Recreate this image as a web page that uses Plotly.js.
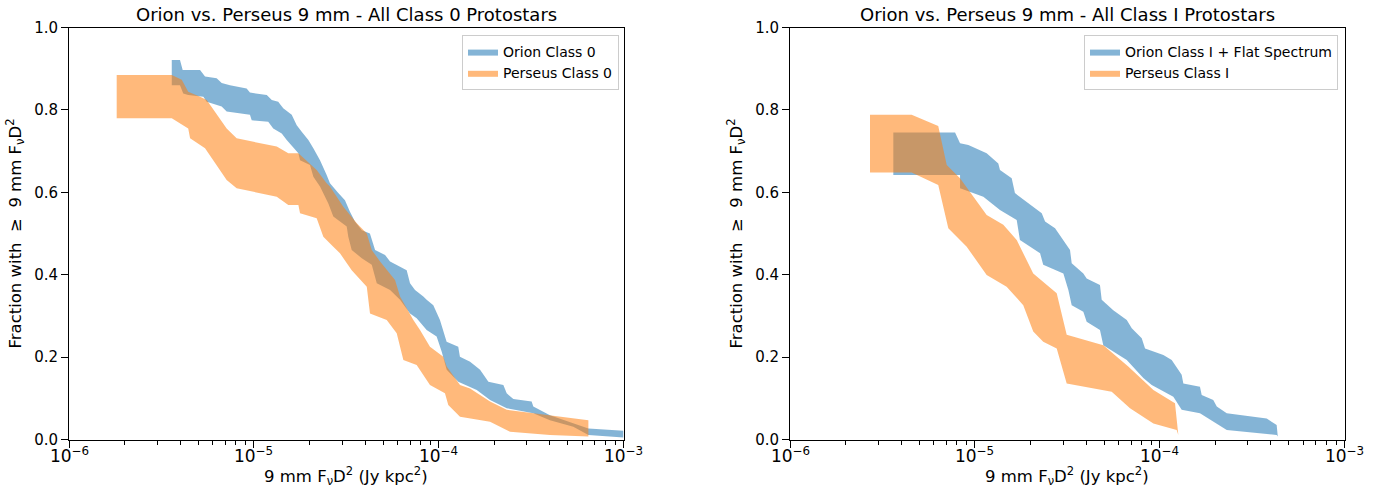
<!DOCTYPE html>
<html>
<head>
<meta charset="utf-8">
<script src="https://cdn.plot.ly/plotly-3.0.1.min.js"></script>
<style>html,body{margin:0;padding:0;background:#fff;}#chart{width:1376px;height:488px;}</style>
</head>
<body>
<div id="chart"></div>
<script>
// log10 of 9 mm F_nu D^2 (Jy kpc^2) and cumulative fraction bounds
// ---- Left panel: Class 0 ----
const orionC0UpperLogX = [-5.444,-5.3995,-5.385,-5.291,-5.264,-5.201,-5.174,-5.129,-5.039,-5.021,-4.930,-4.903,-4.868,-4.841,-4.795,-4.768,-4.741,-4.705,-4.678,-4.642,-4.606,-4.588,-4.543,-4.507,-4.480,-4.453,-4.416,-4.372,-4.344,-4.290,-4.263,-4.209,-4.173,-4.155,-4.128,-4.083,-4.065,-4.029,-3.993,-3.957,-3.894,-3.885,-3.830,-3.776,-3.731,-3.650,-3.632,-3.596,-3.497,-3.488,-3.416,-3.398,-3.190,-3.0];
const orionC0UpperY = [0.921,0.921,0.897,0.897,0.881,0.877,0.865,0.860,0.852,0.842,0.836,0.824,0.820,0.804,0.788,0.763,0.747,0.727,0.707,0.678,0.642,0.622,0.598,0.581,0.553,0.529,0.508,0.500,0.460,0.448,0.432,0.419,0.411,0.379,0.363,0.347,0.339,0.326,0.290,0.237,0.225,0.201,0.189,0.169,0.140,0.132,0.112,0.098,0.092,0.080,0.064,0.059,0.027,0.021];
const orionC0LowerLogX = [-5.444,-5.3995,-5.382,-5.355,-5.273,-5.255,-5.174,-5.147,-5.021,-5.0115,-4.922,-4.895,-4.849,-4.822,-4.759,-4.750,-4.696,-4.678,-4.642,-4.597,-4.570,-4.4975,-4.489,-4.4705,-4.416,-4.362,-4.335,-4.263,-4.209,-4.155,-4.119,-4.065,-4.011,-3.9835,-3.9565,-3.894,-3.794,-3.722,-3.632,-3.488,-3.398,-3.2715,-3.190,-3.0];
const orionC0LowerY = [0.860,0.860,0.840,0.836,0.832,0.820,0.808,0.796,0.788,0.775,0.771,0.755,0.743,0.727,0.695,0.678,0.666,0.638,0.614,0.573,0.541,0.517,0.492,0.460,0.440,0.424,0.379,0.363,0.339,0.306,0.294,0.266,0.250,0.213,0.169,0.140,0.120,0.096,0.076,0.064,0.047,0.031,0.011,0.005];

const perseusC0UpperLogX = [-5.742,-5.444,-5.390,-5.355,-5.291,-5.255,-5.147,-5.093,-4.876,-4.8135,-4.759,-4.696,-4.660,-4.606,-4.588,-4.516,-4.443,-4.389,-4.362,-4.317,-4.236,-4.209,-4.137,-4.101,-4.047,-3.975,-3.9565,-3.8845,-3.830,-3.776,-3.722,-3.632,-3.488,-3.398,-3.190];
const perseusC0UpperY = [0.885,0.885,0.873,0.844,0.832,0.824,0.755,0.731,0.711,0.695,0.695,0.670,0.654,0.622,0.614,0.565,0.525,0.500,0.460,0.432,0.387,0.347,0.290,0.266,0.225,0.201,0.177,0.132,0.124,0.108,0.092,0.072,0.064,0.059,0.047];
const perseusC0LowerLogX = [-5.742,-5.444,-5.355,-5.345,-5.264,-5.147,-5.093,-4.876,-4.8135,-4.759,-4.750,-4.660,-4.624,-4.570,-4.534,-4.4705,-4.389,-4.3715,-4.281,-4.227,-4.191,-4.119,-4.047,-3.966,-3.948,-3.8845,-3.722,-3.614,-3.398,-3.190];
const perseusC0LowerY = [0.780,0.780,0.755,0.731,0.707,0.630,0.610,0.589,0.569,0.569,0.549,0.537,0.492,0.468,0.452,0.411,0.371,0.306,0.290,0.258,0.193,0.181,0.132,0.112,0.084,0.055,0.043,0.019,0.011,0.007];

// ---- Right panel: Class I ----
const orionCIUpperLogX = [-5.441,-5.107,-5.080,-5.035,-4.936,-4.873,-4.864,-4.8005,-4.783,-4.711,-4.638,-4.620,-4.566,-4.485,-4.476,-4.413,-4.395,-4.323,-4.3136,-4.251,-4.178,-4.151,-4.097,-4.079,-3.980,-3.935,-3.881,-3.872,-3.782,-3.7726,-3.710,-3.691,-3.637,-3.421,-3.367,-3.361];
const orionCIUpperY = [0.745,0.745,0.719,0.715,0.695,0.670,0.654,0.634,0.598,0.573,0.549,0.529,0.513,0.460,0.428,0.403,0.391,0.375,0.339,0.314,0.290,0.270,0.246,0.221,0.205,0.193,0.157,0.136,0.128,0.108,0.096,0.080,0.064,0.051,0.035,0.007];
const orionCILowerLogX = [-5.441,-5.080,-5.080,-4.954,-4.864,-4.7735,-4.756,-4.647,-4.630,-4.521,-4.494,-4.476,-4.413,-4.395,-4.323,-4.305,-4.178,-4.0885,-4.043,-3.926,-3.881,-3.782,-3.691,-3.637,-3.367,-3.361];
const orionCILowerY = [0.642,0.642,0.610,0.589,0.557,0.533,0.484,0.452,0.424,0.403,0.363,0.326,0.310,0.286,0.266,0.229,0.193,0.149,0.132,0.104,0.072,0.064,0.039,0.023,0.011,0.007];

const perseusCIUpperLogX = [-5.567,-5.342,-5.198,-5.152,-5.080,-4.936,-4.846,-4.7735,-4.684,-4.557,-4.503,-4.305,-4.170,-4.034,-3.917,-3.899];
const perseusCIUpperY = [0.788,0.788,0.761,0.666,0.634,0.545,0.521,0.484,0.403,0.355,0.254,0.229,0.177,0.120,0.088,0.011];
const perseusCILowerLogX = [-5.567,-5.342,-5.198,-5.1435,-5.044,-4.936,-4.828,-4.738,-4.684,-4.630,-4.557,-4.503,-4.2595,-4.1605,-4.034,-3.908,-3.899];
const perseusCILowerY = [0.648,0.648,0.618,0.513,0.468,0.399,0.371,0.326,0.262,0.237,0.221,0.136,0.116,0.076,0.039,0.023,0.011];

const xTickExponents = [-6, -5, -4, -3];
const seriesNames = ["Orion Class 0","Perseus Class 0","Orion Class I + Flat Spectrum","Perseus Class I"];
const panelTitles = ["Orion vs. Perseus 9 mm - All Class 0 Protostars","Orion vs. Perseus 9 mm - All Class I Protostars"];
const xTitle = "9 mm F<sub>ν</sub>D<sup>2</sup> (Jy kpc<sup>2</sup>)";
const yTitle = "Fraction with \u00a0≥\u00a0 9 mm F<sub>ν</sub>D<sup>2</sup>";

const FONT = "DejaVu Sans, Liberation Sans, sans-serif";
const BLUE = "rgba(31,119,180,0.55)";
const ORANGE = "rgba(255,127,14,0.55)";

function band(upX, upY, loX, loY, name, color, xa, ya, leg) {
  const x = upX.concat(loX.slice().reverse()).map(v => Math.pow(10, v));
  const y = upY.concat(loY.slice().reverse());
  return {x: x, y: y, type: "scatter", mode: "lines", fill: "toself", fillcolor: color,
    line: {width: 0, color: color}, name: name, xaxis: xa, yaxis: ya, legend: leg,
    hoverinfo: "skip"};
}

const traces = [
  band(orionC0UpperLogX, orionC0UpperY, orionC0LowerLogX, orionC0LowerY, seriesNames[0], BLUE, "x", "y", "legend"),
  band(perseusC0UpperLogX, perseusC0UpperY, perseusC0LowerLogX, perseusC0LowerY, seriesNames[1], ORANGE, "x", "y", "legend"),
  band(orionCIUpperLogX, orionCIUpperY, orionCILowerLogX, orionCILowerY, seriesNames[2], BLUE, "x2", "y2", "legend2"),
  band(perseusCIUpperLogX, perseusCIUpperY, perseusCILowerLogX, perseusCILowerY, seriesNames[3], ORANGE, "x2", "y2", "legend2")
];

const W = 1376, H = 488;
const dL = [69/W, 623.5/W], dR = [790/W, 1344.5/W];
const dY = [1 - 439.5/H, 1 - 27.5/H];

function xax(domain, anchor) {
  return {domain: domain, anchor: anchor, type: "log", range: [-6, -3], dtick: 1,
    showticklabels: false, showgrid: false, zeroline: false,
    showline: true, linecolor: "#000", linewidth: 1, mirror: true,
    ticks: "outside", ticklen: 7, tickwidth: 1, tickcolor: "#000",
    minor: {ticks: "outside", ticklen: 4, tickwidth: 1, tickcolor: "#000", dtick: "D1", showgrid: false},
    automargin: false, fixedrange: true};
}
function yax(domain, anchor) {
  return {domain: domain, anchor: anchor, range: [0, 1], dtick: 0.2, tickformat: ".1f",
    showgrid: false, zeroline: false, showline: true, linecolor: "#000", linewidth: 1, mirror: true,
    ticks: "outside", ticklen: 7, tickwidth: 1, tickcolor: "#000",
    tickfont: {family: FONT, size: 15, color: "#000"},
    title: {text: yTitle, font: {family: FONT, size: 16.5, color: "#000"}, standoff: 8},
    automargin: false, fixedrange: true};
}

function legendAt(xRight) {
  return {x: xRight, xanchor: "right", y: 1 - 35/H, yanchor: "top",
    bgcolor: "rgba(255,255,255,0.8)", bordercolor: "#cccccc", borderwidth: 1,
    font: {family: FONT, size: 14, color: "#000"}, tracegroupgap: 0, itemwidth: 30};
}

function textNote(text, xc, yPx, size) {
  return {text: text, xref: "paper", yref: "paper", x: xc, y: 1 - yPx/H,
    xanchor: "center", yanchor: "middle", showarrow: false,
    font: {family: FONT, size: size, color: "#000"}};
}
function tickNote(exp, xref) {
  return {text: "10<sup>\u2212" + Math.abs(exp) + "</sup>", xref: xref, yref: "paper", x: exp,
    y: 1 - 442/H, xanchor: "center", yanchor: "top", showarrow: false,
    font: {family: FONT, size: 17, color: "#000"}};
}

const annotations = [
  textNote(panelTitles[0], (dL[0]+dL[1])/2, 15, 18),
  textNote(panelTitles[1], (dR[0]+dR[1])/2, 15, 18),
  textNote(xTitle, (dL[0]+dL[1])/2, 476, 16.5),
  textNote(xTitle, (dR[0]+dR[1])/2, 476, 16.5)
];
xTickExponents.forEach(e => { annotations.push(tickNote(e, "x")); annotations.push(tickNote(e, "x2")); });

const layout = {
  width: W, height: H, margin: {l: 0, r: 0, t: 0, b: 0},
  paper_bgcolor: "#fff", plot_bgcolor: "#fff",
  font: {family: FONT, color: "#000"},
  xaxis: xax(dL, "y"), yaxis: yax(dY, "x"),
  xaxis2: xax(dR, "y2"), yaxis2: yax(dY, "x2"),
  legend: legendAt(619/W), legend2: legendAt(1338/W),
  showlegend: true,
  annotations: annotations
};

Plotly.newPlot("chart", traces, layout, {staticPlot: true, displayModeBar: false});
</script>
</body>
</html>
